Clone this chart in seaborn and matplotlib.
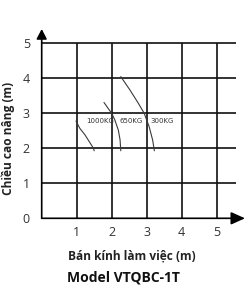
import matplotlib
matplotlib.use("Agg")
import matplotlib.pyplot as plt
import seaborn as sns
import pandas as pd

# ---- data ----
x_ticks = [1, 2, 3, 4, 5]
y_ticks = [0, 1, 2, 3, 4, 5]
load_labels = ["1000KG", "650KG", "300KG"]
r_1000 = [0.98, 1.09, 1.24, 1.36, 1.48, 1.50]
h_1000 = [2.78, 2.57, 2.38, 2.19, 2.00, 1.93]
r_650 = [1.78, 1.90, 2.00, 2.09, 2.19, 2.24, 2.26]
h_650 = [3.31, 3.14, 3.00, 2.81, 2.52, 2.24, 1.93]
r_300 = [2.26, 2.52, 2.76, 2.93, 3.07, 3.17, 3.22]
h_300 = [4.05, 3.67, 3.29, 3.00, 2.62, 2.24, 1.93]
label_x = [1.27, 2.21, 3.11]
label_y = [2.79, 2.79, 2.79]
x_label = "Bán kính làm việc (m)"
y_label = "Chiều cao nâng (m)"
title = "Model VTQBC-1T"

sns.set_style("white")
plt.rcParams["font.family"] = ["Open Sans", "DejaVu Sans"]

fig = plt.figure(figsize=(2.47, 2.96), dpi=100)
ax = fig.add_axes([41.7 / 247, (296 - 218.3) / 296, (245 - 41.7) / 247, (218.3 - 29) / 296])
ax.set_xlim(0, 5.81)
ax.set_ylim(0, 5.41)
for s in ax.spines.values():
    s.set_visible(False)

grid_c = "#111111"
ax.vlines(x_ticks, 0, 5, color=grid_c, lw=1.2, zorder=1)
ax.hlines(y_ticks[1:], 0, 5.55, color=grid_c, lw=1.2, zorder=1)

# axes with arrows
ax.annotate("", xy=(5.81, 0), xytext=(0, 0), annotation_clip=False,
            arrowprops=dict(arrowstyle="-|>,head_length=0.6,head_width=0.27",
                            mutation_scale=14, lw=1.2, color="black",
                            shrinkA=0, shrinkB=0))
ax.annotate("", xy=(0, 5.41), xytext=(0, 0), annotation_clip=False,
            arrowprops=dict(arrowstyle="-|>,head_length=0.42,head_width=0.22",
                            mutation_scale=14, lw=1.2, color="black",
                            shrinkA=0, shrinkB=0))

curves = [(r_1000, h_1000), (r_650, h_650), (r_300, h_300)]
for (rx, hy), lab in zip(curves, load_labels):
    df = pd.DataFrame({"r": rx, "h": hy})
    sns.lineplot(data=df, x="r", y="h", sort=False, estimator=None,
                 color="#3a3a3a", lw=0.8, ax=ax, zorder=3)

for lx, ly, lab in zip(label_x, label_y, load_labels):
    ax.text(lx, ly, lab, fontsize=5, color="#333333", ha="left", va="center",
            family=["DejaVu Sans"], zorder=4)

ax.set_xticks(x_ticks)
ax.set_yticks(y_ticks)
ax.tick_params(axis="both", length=0, labelsize=9, labelcolor="#333333")
ax.tick_params(axis="x", pad=5.5)
ax.tick_params(axis="y", pad=8.5)
ax.set_xlabel("")
ax.set_ylabel("")

fig.text(132 / 247, 1 - 256 / 296, x_label, ha="center", va="center",
         fontsize=8.6, fontweight="bold", color="#222222")
fig.text(8 / 247, 1 - 138.5 / 296, y_label, ha="center", va="center",
         rotation=90, fontsize=8.6, fontweight="bold", color="#222222")
fig.text(123 / 247, 1 - 277 / 296, title, ha="center", va="center",
         fontsize=10, fontweight="bold", color="#111111")

fig.savefig("out.png", dpi=100)
